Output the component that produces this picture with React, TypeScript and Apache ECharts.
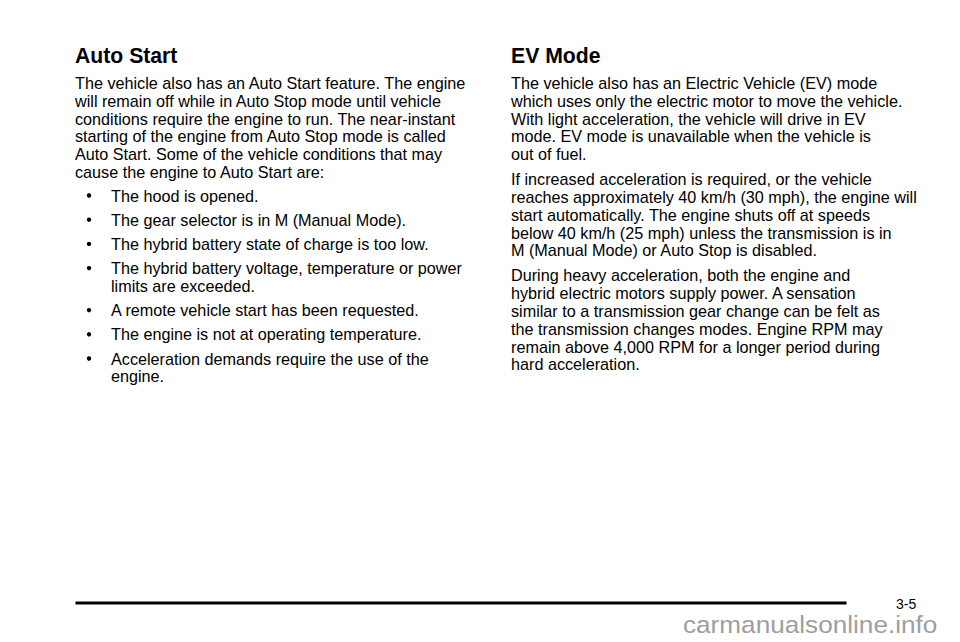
import React, { useEffect, useRef } from 'react';
import * as echarts from 'echarts';

// page texts
const leftTitle = 'Auto Start';
const leftIntro = [
  'The vehicle also has an Auto Start feature. The engine',
  'will remain off while in Auto Stop mode until vehicle',
  'conditions require the engine to run. The near-instant',
  'starting of the engine from Auto Stop mode is called',
  'Auto Start. Some of the vehicle conditions that may',
  'cause the engine to Auto Start are:'
];
const leftBullets = [
  ['The hood is opened.'],
  ['The gear selector is in M (Manual Mode).'],
  ['The hybrid battery state of charge is too low.'],
  ['The hybrid battery voltage, temperature or power', 'limits are exceeded.'],
  ['A remote vehicle start has been requested.'],
  ['The engine is not at operating temperature.'],
  ['Acceleration demands require the use of the', 'engine.']
];

const rightTitle = 'EV Mode';
const rightParagraphs = [
  [
    'The vehicle also has an Electric Vehicle (EV) mode',
    'which uses only the electric motor to move the vehicle.',
    'With light acceleration, the vehicle will drive in EV',
    'mode. EV mode is unavailable when the vehicle is',
    'out of fuel.'
  ],
  [
    'If increased acceleration is required, or the vehicle',
    'reaches approximately 40 km/h (30 mph), the engine will',
    'start automatically. The engine shuts off at speeds',
    'below 40 km/h (25 mph) unless the transmission is in',
    'M (Manual Mode) or Auto Stop is disabled.'
  ],
  [
    'During heavy acceleration, both the engine and',
    'hybrid electric motors supply power. A sensation',
    'similar to a transmission gear change can be felt as',
    'the transmission changes modes. Engine RPM may',
    'remain above 4,000 RPM for a longer period during',
    'hard acceleration.'
  ]
];

const pageNumber = '3-5';
const watermark = 'carmanualsonline.info';

const FONT = '"Liberation Sans", Arial, Helvetica, sans-serif';
const LINE = 17.8;
const BODY_SIZE = 16.2;

const App: React.FC = () => {
  const chartRef = useRef<HTMLDivElement>(null);

  useEffect(() => {
    if (!chartRef.current) return;
    const chart = echarts.init(chartRef.current, undefined, { renderer: 'svg' });

    const elements: any[] = [];

    const bodyText = (text: string, x: number, cy: number) => ({
      type: 'text',
      x,
      y: cy - 0.4,
      style: {
        text,
        fill: '#000',
        font: `${BODY_SIZE}px ${FONT}`,
        textAlign: 'left',
        textVerticalAlign: 'middle'
      }
    });

    const titleText = (text: string, x: number, cy: number) => ({
      type: 'text',
      x,
      y: cy,
      style: {
        text,
        fill: '#000',
        font: `bold 21.2px ${FONT}`,
        textAlign: 'left',
        textVerticalAlign: 'middle'
      }
    });

    // left column
    const leftX = 75;
    elements.push(titleText(leftTitle, leftX, 55));
    let y = 83.3;
    leftIntro.forEach((line, i) => {
      elements.push(bodyText(line, leftX, y + i * LINE));
    });
    y = 196;
    leftBullets.forEach(item => {
      elements.push({
        type: 'circle',
        shape: { cx: 89, cy: y - 0.5, r: 2.2 },
        style: { fill: '#000' }
      });
      item.forEach((line, i) => {
        elements.push(bodyText(line, 111, y + i * LINE));
      });
      y += (item.length - 1) * LINE + 24.2;
    });

    // right column
    const rightX = 511;
    elements.push(titleText(rightTitle, rightX, 55));
    y = 83.3;
    rightParagraphs.forEach(par => {
      par.forEach((line, i) => {
        elements.push(bodyText(line, rightX, y + i * LINE));
      });
      y += (par.length - 1) * LINE + 25;
    });

    // footer
    elements.push({
      type: 'rect',
      shape: { x: 75.5, y: 601.5, width: 771, height: 3 },
      style: { fill: '#000' }
    });
    elements.push({
      type: 'text',
      x: 896,
      y: 604,
      style: {
        text: pageNumber,
        fill: '#000',
        font: `14px ${FONT}`,
        textAlign: 'left',
        textVerticalAlign: 'middle'
      }
    });
    elements.push({
      type: 'text',
      x: 683,
      y: 624.5,
      scaleX: 1.09,
      style: {
        text: watermark,
        fill: '#9e9e9e',
        font: `24px ${FONT}`,
        textAlign: 'left',
        textVerticalAlign: 'middle'
      }
    });

    chart.setOption({
      animation: false,
      backgroundColor: '#fff',
      graphic: { elements }
    });

    return () => {
      chart.dispose();
    };
  }, []);

  return (
    <div
      ref={chartRef}
      style={{ position: 'fixed', left: 0, top: 0, width: '960px', height: '642px' }}
    />
  );
};

export default App;
